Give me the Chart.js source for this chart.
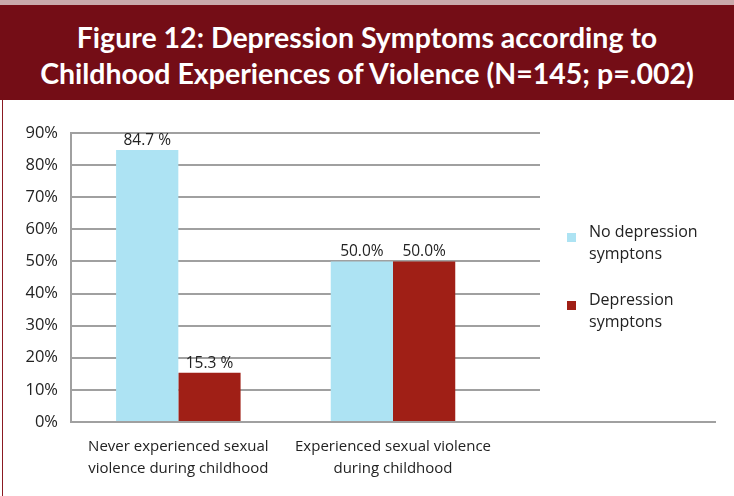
<!DOCTYPE html>
<html>
<head>
<meta charset="utf-8">
<script src="https://cdn.jsdelivr.net/npm/chart.js@4"></script>
<style>
  html, body { margin: 0; padding: 0; background: #fff; }
  body { width: 734px; height: 496px; position: relative; overflow: hidden; }
  #strip { position: absolute; left: 0; top: 0; width: 734px; height: 5px; background: #c9a9ab; }
  #banner { position: absolute; left: 0; top: 5px; width: 734px; height: 95px; background: #740d16;
    color: #fff; font-family: Lato, sans-serif; font-weight: bold; font-size: 28.5px;
    line-height: 36px; text-align: center; box-sizing: border-box; padding-top: 14px; }
  #frame { position: absolute; left: 2px; top: 100px; width: 1px; height: 396px; background: #8b1a22; }
  #wrap { position: absolute; left: 4px; top: 100px; width: 730px; height: 396px; }
</style>
</head>
<body>
<div id="strip"></div>
<div id="banner">Figure 12: Depression Symptoms according to<br>Childhood Experiences of Violence (N=145; p=.002)</div>
<div id="frame"></div>
<div id="wrap"><canvas id="myChart"></canvas></div>
<script>
const categories = [
  ['Never experienced sexual', 'violence during childhood'],
  ['Experienced sexual violence', 'during childhood'],
  ''
];
const noDepression = [84.7, 50.0];
const depression = [15.3, 50.0];
const noDepressionLabels = ['84.7 %', '50.0%'];
const depressionLabels = ['15.3 %', '50.0%'];
const yTicks = [0, 10, 20, 30, 40, 50, 60, 70, 80, 90];

const textFont = { family: 'Open Sans', size: 15 };

// values printed above each bar
const barLabels = {
  id: 'barLabels',
  afterDatasetsDraw(chart) {
    const ctx = chart.ctx;
    ctx.save();
    ctx.font = '15.5px "Open Sans"';
    ctx.fillStyle = '#222';
    ctx.textAlign = 'center';
    ctx.textBaseline = 'bottom';
    chart.data.datasets.forEach((ds, i) => {
      chart.getDatasetMeta(i).data.forEach((bar, j) => {
        if (ds.valueLabels[j]) ctx.fillText(ds.valueLabels[j], bar.x, bar.y - 2);
      });
    });
    ctx.restore();
  }
};

// legend sits over the right part of the plot, on a white box
const sideLegend = {
  id: 'sideLegend',
  afterDraw(chart) {
    const ctx = chart.ctx;
    const a = chart.chartArea;
    ctx.save();
    ctx.fillStyle = '#fff';
    ctx.fillRect(536, a.top - 3, a.right - 536 + 5, a.bottom - a.top - 6);
    ctx.font = '16px "Open Sans"';
    ctx.textBaseline = 'middle';
    const items = [
      { color: '#ade3f3', lines: ['No depression', 'symptons'], y: 132 },
      { color: '#a01f16', lines: ['Depression', 'symptons'], y: 200 }
    ];
    items.forEach(it => {
      ctx.fillStyle = it.color;
      ctx.fillRect(563, it.y + 1, 9, 9);
      ctx.fillStyle = '#222';
      it.lines.forEach((t, k) => ctx.fillText(t, 585, it.y + k * 22));
    });
    ctx.restore();
  }
};

new Chart(document.getElementById('myChart'), {
  type: 'bar',
  data: {
    labels: categories,
    datasets: [
      { label: 'No depression symptons', data: noDepression, backgroundColor: '#ade3f3', valueLabels: noDepressionLabels },
      { label: 'Depression symptons', data: depression, backgroundColor: '#a01f16', valueLabels: depressionLabels }
    ]
  },
  options: {
    responsive: true,
    maintainAspectRatio: false,
    animation: false,
    categoryPercentage: 0.58,
    barPercentage: 1,
    layout: { padding: { top: 33, right: 19, left: 0, bottom: 0 } },
    plugins: {
      legend: { display: false },
      tooltip: { enabled: false }
    },
    scales: {
      x: {
        grid: { display: false },
        border: { display: true, color: '#a0a0a0', width: 2 },
        ticks: { color: '#222', font: { ...textFont, lineHeight: 1.5 }, padding: 5, maxRotation: 0, autoSkip: false },
        afterFit(s) { s.height = 74; }
      },
      y: {
        min: 0,
        max: 90,
        afterBuildTicks(s) { s.ticks = yTicks.map(v => ({ value: v })); },
        grid: { color: '#a0a0a0', lineWidth: 2, drawTicks: false },
        border: { display: true, color: '#a0a0a0', width: 2 },
        ticks: { color: '#222', font: { family: 'Open Sans', size: 16.5 }, padding: 13, callback: v => v + '%' },
        afterFit(s) { s.width = 67; }
      }
    }
  },
  plugins: [barLabels, sideLegend]
});
</script>
</body>
</html>
